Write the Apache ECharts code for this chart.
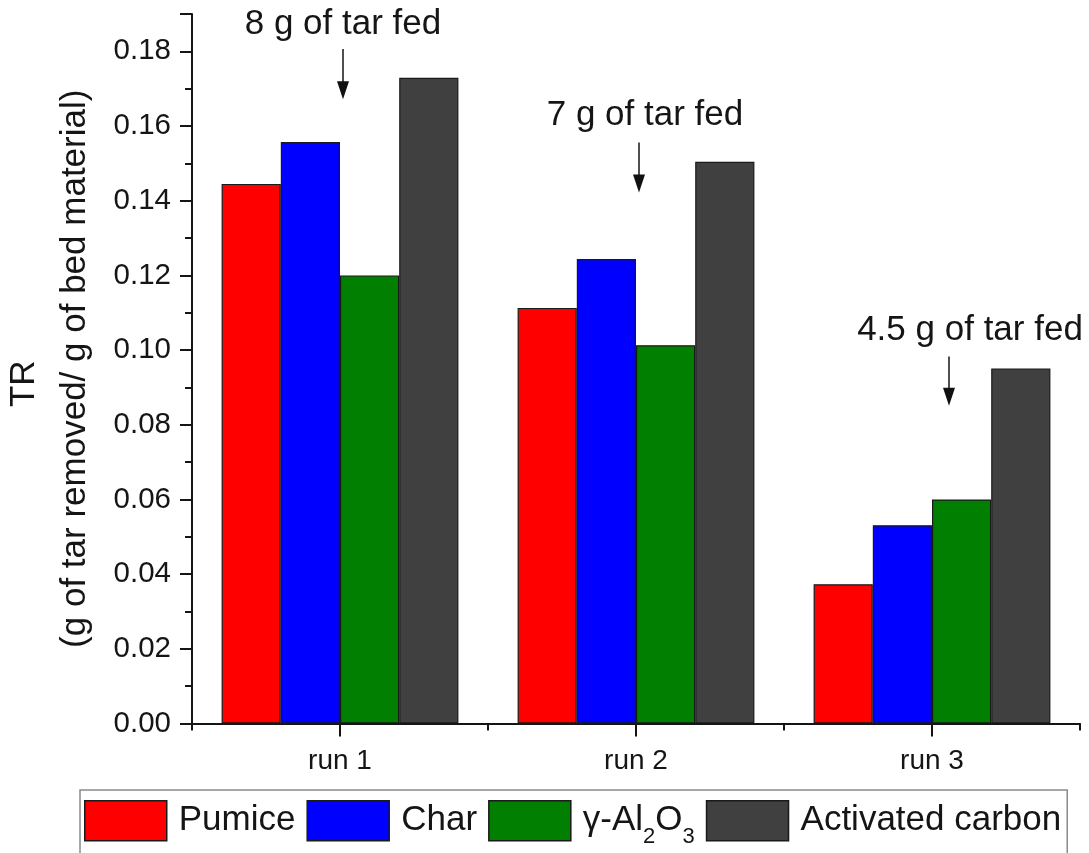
<!DOCTYPE html>
<html>
<head>
<meta charset="utf-8">
<script src="https://cdn.jsdelivr.net/npm/echarts@6/dist/echarts.min.js"></script>
<style>
  html, body { margin: 0; padding: 0; background: #ffffff; }
  #chart { width: 1089px; height: 853px; }
</style>
</head>
<body>
<div id="chart"></div>
<script>
// Tar removal per gram of bed material, three runs, four bed materials
const categories = ['run 1', 'run 2', 'run 3'];
const seriesNames = ['Pumice', 'Char', 'γ-Al2O3', 'Activated carbon'];
const pumice = [0.1445, 0.1113, 0.0373];
const charValues = [0.1557, 0.1244, 0.0531];
const alumina = [0.1200, 0.1013, 0.0600];
const activatedCarbon = [0.1729, 0.1504, 0.0951];

// Notes on the amount of tar fed in each run (y given in axis units)
const noteTexts = ['8 g of tar fed', '7 g of tar fed', '4.5 g of tar fed'];
const noteTextY = [0.1873, 0.1629, 0.1052];
const arrowTopY = [0.1806, 0.1556, 0.0983];
const arrowTipY = [0.1672, 0.1422, 0.0851];

const FONT = '"Liberation Sans", Arial, Helvetica, sans-serif';
const INK = '#151515';
const colors = ['#ff0000', '#0000ff', '#007f00', '#404040'];
const noteTextDx = [3, 9, 38];
const arrowDx = [3, 3, 17];

const chart = echarts.init(document.getElementById('chart'), null, { renderer: 'canvas' });

const barSeries = [pumice, charValues, alumina, activatedCarbon].map((vals, i) => ({
  name: seriesNames[i],
  type: 'bar',
  xAxisIndex: 0,
  yAxisIndex: 0,
  data: vals,
  barGap: '0%',
  barCategoryGap: '20%',
  itemStyle: { color: colors[i], borderColor: '#1a1a1a', borderWidth: 1.2 },
  emphasis: { disabled: true }
}));

chart.setOption({
  animation: false,
  backgroundColor: '#ffffff',
  textStyle: { fontFamily: FONT, color: INK },
  grid: { left: 192, right: 9, top: 14, bottom: 129.5, containLabel: false, outerBoundsMode: 'none' },
  legend: {
    left: 80,
    top: 790,
    padding: [10, 6, 30, 4],
    itemWidth: 82,
    itemHeight: 40,
    itemGap: 11,
    icon: 'rect',
    backgroundColor: '#ffffff',
    borderColor: '#8a8a8a',
    borderWidth: 1.5,
    borderRadius: 0,
    selectedMode: false,
    data: seriesNames,
    itemStyle: { borderColor: '#1a1a1a', borderWidth: 1.5 },
    formatter: function (name) {
      if (name === 'γ-Al2O3') {
        return '{n|γ-Al}{s|2}{n|O}{s|3}';
      }
      return '{n|' + name + '}';
    },
    textStyle: {
      fontFamily: FONT,
      color: INK,
      fontSize: 35,
      padding: [0, 0, 0, 7],
      rich: {
        n: { fontFamily: FONT, color: INK, fontSize: 35, lineHeight: 54, verticalAlign: 'middle' },
        s: { fontFamily: FONT, color: INK, fontSize: 22, lineHeight: 22, verticalAlign: 'bottom' }
      }
    }
  },
  xAxis: [
    {
      type: 'category',
      data: categories,
      position: 'bottom',
      axisLine: { show: true, lineStyle: { color: INK, width: 2 } },
      axisTick: { show: true, alignWithLabel: true, inside: false, length: 13, lineStyle: { color: INK, width: 2 } },
      axisLabel: { show: true, margin: 24, fontSize: 28, fontFamily: FONT, color: INK },
      splitLine: { show: false }
    },
    {
      // category boundaries
      type: 'category',
      data: categories,
      position: 'bottom',
      gridIndex: 0,
      axisLine: { show: false },
      axisTick: { show: true, alignWithLabel: false, inside: false, length: 7, lineStyle: { color: INK, width: 2 } },
      axisLabel: { show: false },
      splitLine: { show: false }
    }
  ],
  yAxis: {
    type: 'value',
    min: 0,
    max: 0.19,
    interval: 0.02,
    name: '{a|TR}\n{b|(g of tar removed/ g of bed material)}',
    nameLocation: 'middle',
    nameRotate: 90,
    nameGap: 95,
    nameTextStyle: {
      rich: {
        a: { fontFamily: FONT, color: INK, fontSize: 35, lineHeight: 58, padding: [0, 30, 0, 0] },
        b: { fontFamily: FONT, color: INK, fontSize: 35, lineHeight: 44 }
      }
    },
    axisLine: { show: true, lineStyle: { color: INK, width: 2 } },
    axisTick: { show: true, inside: false, length: 12, lineStyle: { color: INK, width: 2 } },
    minorTick: { show: true, splitNumber: 2, length: 7, lineStyle: { color: INK, width: 2 } },
    axisLabel: {
      margin: 21,
      fontSize: 29.5,
      fontFamily: FONT,
      color: INK,
      showMaxLabel: false,
      formatter: v => v.toFixed(2)
    },
    splitLine: { show: false },
    minorSplitLine: { show: false }
  },
  series: barSeries
});

// Notes with downward arrows, placed through the axes
function drawNotes() {
  const graphics = [];
  categories.forEach((cat, i) => {
    const tp = chart.convertToPixel({ xAxisIndex: 0, yAxisIndex: 0 }, [cat, noteTextY[i]]);
    const top = chart.convertToPixel({ xAxisIndex: 0, yAxisIndex: 0 }, [cat, arrowTopY[i]]);
    const tip = chart.convertToPixel({ xAxisIndex: 0, yAxisIndex: 0 }, [cat, arrowTipY[i]]);
    const ax = top[0] + arrowDx[i];
    const headH = 18, headW = 6;
    graphics.push({
      type: 'text',
      x: tp[0] + noteTextDx[i],
      y: tp[1],
      silent: true,
      style: {
        text: noteTexts[i],
        fontFamily: FONT,
        fontSize: 35,
        fill: INK,
        align: 'center',
        verticalAlign: 'middle'
      }
    });
    graphics.push({
      type: 'line',
      silent: true,
      shape: { x1: ax, y1: top[1], x2: ax, y2: tip[1] - headH + 2 },
      style: { stroke: '#222222', lineWidth: 1.6 }
    });
    graphics.push({
      type: 'polygon',
      silent: true,
      shape: { points: [[ax - headW, tip[1] - headH], [ax + headW, tip[1] - headH], [ax, tip[1]]] },
      style: { fill: '#111111' }
    });
  });
  chart.setOption({ graphic: graphics });
}
drawNotes();
</script>
</body>
</html>
